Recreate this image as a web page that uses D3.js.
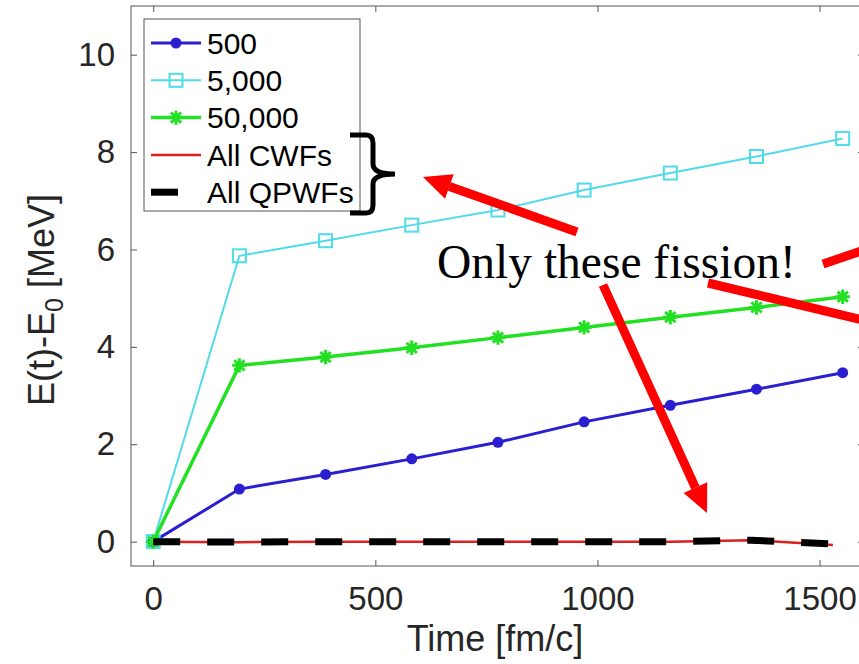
<!DOCTYPE html>
<html>
<head>
<meta charset="utf-8">
<script src="https://cdn.jsdelivr.net/npm/d3@7"></script>
<style>
  body { margin: 0; background: #fff; overflow: hidden; }
  svg { display: block; font-family: "Liberation Sans", Arial, sans-serif; }
  .axis-line { stroke: #555; stroke-width: 1; fill: none; }
  .tick-label { fill: #262626; font-size: 33px; }
  .axis-label { fill: #262626; font-size: 36px; }
  .legend-text { fill: #000; font-size: 30px; }
</style>
</head>
<body>
<div id="chart"></div>
<script>
// time steps of the runs [fm/c]
const times = [0, 194, 388, 582, 776, 970, 1164, 1358, 1552];
const e500 = [0, 1.08, 1.38, 1.70, 2.04, 2.46, 2.80, 3.13, 3.47];
const e5000 = [0, 5.87, 6.18, 6.50, 6.81, 7.22, 7.57, 7.91, 8.28];
const e50000 = [0, 3.62, 3.79, 3.98, 4.19, 4.40, 4.61, 4.81, 5.03];

const allTimes = [0, 194, 388, 582, 776, 970, 1164, 1345, 1530];
const cwfValues = [0, -0.01, 0, 0, 0, 0, 0, 0.03, -0.07];
const qpwfValues = [0, -0.01, 0, 0, 0, 0, 0, 0.03, -0.05];

const xTicks = [0, 500, 1000, 1500];
const yTicks = [0, 2, 4, 6, 8, 10];
const legendLabels = ['500', '5,000', '50,000', 'All CWFs', 'All QPWFs'];

const W = 859, H = 664;
const plot = { left: 131, right: 864, top: 6, bottom: 566 };

const svg = d3.select('#chart').append('svg')
    .attr('width', W)
    .attr('height', H);

const x = d3.scaleLinear().domain([-50, 1600]).range([plot.left, plot.right]);
const y = d3.scaleLinear().domain([-0.5, 11]).range([plot.bottom, plot.top]);

svg.append('defs').append('clipPath').attr('id', 'plot-clip')
    .append('rect')
    .attr('x', plot.left).attr('y', plot.top)
    .attr('width', plot.right - plot.left).attr('height', plot.bottom - plot.top);

// box + inward ticks (matlab style)
svg.append('rect')
    .attr('class', 'axis-line')
    .attr('x', plot.left).attr('y', plot.top)
    .attr('width', plot.right - plot.left).attr('height', plot.bottom - plot.top);

svg.append('g')
    .attr('transform', `translate(0,${plot.bottom})`)
    .call(d3.axisBottom(x).tickValues(xTicks).tickSize(-6).tickPadding(18).tickFormat(d3.format('d')))
    .call(g => g.select('.domain').remove())
    .call(g => g.selectAll('line').attr('stroke', '#555'))
    .call(g => g.selectAll('text').attr('class', 'tick-label').attr('font-size', null).attr('font-family', null).attr('dy', '0.8em'));

svg.append('g')
    .attr('transform', `translate(0,${plot.top})`)
    .call(d3.axisTop(x).tickValues(xTicks).tickSize(-6).tickFormat(''))
    .call(g => g.select('.domain').remove())
    .call(g => g.selectAll('line').attr('stroke', '#555'));

svg.append('g')
    .attr('transform', `translate(${plot.left},0)`)
    .call(d3.axisLeft(y).tickValues(yTicks).tickSize(-6).tickPadding(16))
    .call(g => g.select('.domain').remove())
    .call(g => g.selectAll('line').attr('stroke', '#555'))
    .call(g => g.selectAll('text').attr('class', 'tick-label').attr('font-size', null).attr('font-family', null));

svg.append('g')
    .attr('transform', `translate(${plot.right},0)`)
    .call(d3.axisRight(y).tickValues(yTicks).tickSize(-6).tickFormat(''))
    .call(g => g.select('.domain').remove())
    .call(g => g.selectAll('line').attr('stroke', '#555'));

// axis labels
svg.append('text')
    .attr('class', 'axis-label')
    .attr('x', 495)
    .attr('y', 651)
    .attr('text-anchor', 'middle')
    .text('Time [fm/c]');

const yLab = svg.append('text')
    .attr('class', 'axis-label')
    .attr('transform', 'translate(54,300) rotate(-90)')
    .attr('text-anchor', 'middle');
yLab.append('tspan').text('E(t)-E');
yLab.append('tspan').attr('font-size', '25px').attr('dy', 9).text('0');
yLab.append('tspan').attr('dy', -9).text(' [MeV]');

// series
const series = [
    { name: '500', values: e500, color: '#2b1ed0', width: 3, marker: 'circle' },
    { name: '5,000', values: e5000, color: '#4fdbe8', width: 2, marker: 'square' },
    { name: '50,000', values: e50000, color: '#22e022', width: 3.5, marker: 'star' }
];

const plotArea = svg.append('g').attr('clip-path', 'url(#plot-clip)');
const line = d3.line().x(d => x(d[0])).y(d => y(d[1]));

function drawMarker(g, type, color, cx, cy) {
    if (type === 'circle') {
        g.append('circle').attr('cx', cx).attr('cy', cy).attr('r', 5.5).attr('fill', color);
    } else if (type === 'square') {
        g.append('rect').attr('x', cx - 6.5).attr('y', cy - 6.5).attr('width', 13).attr('height', 13)
            .attr('fill', 'none').attr('stroke', color).attr('stroke-width', 2);
    } else {
        g.append('path')
            .attr('transform', `translate(${cx},${cy})`)
            .attr('d', d3.symbol(d3.symbolPlus, 70)() + d3.symbol(d3.symbolTimes, 70)())
            .attr('fill', 'none').attr('stroke', color).attr('stroke-width', 3);
    }
}

series.forEach(s => {
    const pts = times.map((t, i) => [t, s.values[i]]);
    plotArea.append('path')
        .datum(pts)
        .attr('d', line)
        .attr('fill', 'none')
        .attr('stroke', s.color)
        .attr('stroke-width', s.width);
    const mg = plotArea.append('g');
    pts.forEach(p => drawMarker(mg, s.marker, s.color, x(p[0]), y(p[1])));
});

plotArea.append('path')
    .datum(allTimes.map((t, i) => [t, cwfValues[i]]))
    .attr('d', line)
    .attr('fill', 'none')
    .attr('stroke', '#dc1f1f')
    .attr('stroke-width', 2.5);

plotArea.append('path')
    .datum(allTimes.map((t, i) => [t, qpwfValues[i]]))
    .attr('d', line)
    .attr('fill', 'none')
    .attr('stroke', '#000')
    .attr('stroke-width', 7)
    .attr('stroke-dasharray', '27,27');

// Legend
const legend = svg.append('g');
legend.append('rect')
    .attr('x', 144).attr('y', 19)
    .attr('width', 216).attr('height', 192)
    .attr('fill', '#fff')
    .attr('stroke', '#555')
    .attr('stroke-width', 1);

legendLabels.forEach((label, i) => {
    const ly = 43 + i * 37.3;
    const g = legend.append('g');
    if (i < 3) {
        const s = series[i];
        g.append('line').attr('x1', 151).attr('x2', 201).attr('y1', ly).attr('y2', ly)
            .attr('stroke', s.color).attr('stroke-width', s.width);
        drawMarker(g, s.marker, s.color, 176, ly);
    } else if (i === 3) {
        g.append('line').attr('x1', 151).attr('x2', 201).attr('y1', ly).attr('y2', ly)
            .attr('stroke', '#dc1f1f').attr('stroke-width', 2.5);
    } else {
        g.append('line').attr('x1', 151).attr('x2', 178).attr('y1', ly).attr('y2', ly)
            .attr('stroke', '#000').attr('stroke-width', 7);
    }
    g.append('text')
        .attr('class', 'legend-text')
        .attr('x', 207)
        .attr('y', ly)
        .attr('dy', '0.36em')
        .text(label);
});

// Annotation: brace, text and arrows
svg.append('path')
    .attr('d', 'M350,135 L366,135 Q373,135 373,143 L373,164 Q373,174 395,174 Q373,174 373,184 L373,205 Q373,213 366,213 L350,213')
    .attr('fill', 'none')
    .attr('stroke', '#000')
    .attr('stroke-width', 5);

svg.append('text')
    .attr('x', 437)
    .attr('y', 278)
    .style('font-family', '"Liberation Serif", "Times New Roman", serif')
    .style('font-size', '47.5px')
    .style('fill', '#000')
    .text('Only these fission!');

function arrow(x1, y1, x2, y2, head) {
    const ang = Math.atan2(y2 - y1, x2 - x1);
    const len = 28, half = 13;
    const bx = x2 - len * Math.cos(ang), by = y2 - len * Math.sin(ang);
    svg.append('line')
        .attr('x1', x1).attr('y1', y1)
        .attr('x2', head ? bx : x2).attr('y2', head ? by : y2)
        .attr('stroke', '#fe0000').attr('stroke-width', 9);
    if (head) {
        const px = -Math.sin(ang) * half, py = Math.cos(ang) * half;
        svg.append('path')
            .attr('d', `M${x2},${y2} L${bx + px},${by + py} L${bx - px},${by - py} Z`)
            .attr('fill', '#fe0000');
    }
}

arrow(577, 232, 423, 177, true);
arrow(603, 285, 707, 513, true);
arrow(823, 264, 900, 238, false);
arrow(708, 283, 900, 329, false);
</script>
</body>
</html>
